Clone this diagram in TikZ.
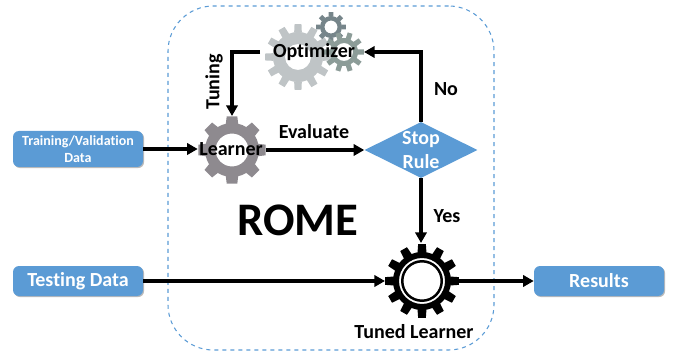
\documentclass[tikz,border=0pt]{standalone}
\usepackage{fontspec}
\setmainfont[Ligatures=NoCommon]{Carlito}
\usetikzlibrary{arrows.meta,shapes.geometric,shadows}
\definecolor{rblue}{HTML}{5B9BD5}
\definecolor{optgray}{HTML}{BFC4C6}
\definecolor{smallone}{HTML}{76858A}
\definecolor{smalltwo}{HTML}{8C9C98}
\definecolor{learngray}{HTML}{8E8A8F}
\tikzset{
  x=0.75pt,y=-0.75pt,
  blue box/.style={rectangle,rounded corners=4.5pt,fill=rblue,text=white,font=\bfseries,align=center,inner sep=0pt,minimum width=97.5pt,drop shadow={shadow xshift=0.8pt,shadow yshift=-0.8pt,fill=black!45,opacity=0.6}},
  conn/.style={line width=2.4pt,-{Triangle[length=8pt,width=8.5pt]}},
  lab/.style={font=\bfseries\fontsize{15}{17}\selectfont,text=black,inner sep=0pt},
}
% cx cy rbody router rhole teeth color startangle
\newcommand{\gearshape}[8]{%
  \fill[#7,even odd rule] (#1,#2) circle[radius=#3*0.75pt] (#1,#2) circle[radius=#5*0.75pt];
  \pgfmathsetmacro{\stp}{360/#6}
  \foreach \k in {1,...,#6}{
    \pgfmathsetmacro{\ang}{#8+\k*\stp}
    \pgfmathsetmacro{\wa}{0.30*\stp}
    \pgfmathsetmacro{\wb}{0.20*\stp}
    \fill[#7] (\ang-\wa:#3*0.75pt-0.3pt) -- (\ang-\wb:#4*0.75pt) -- (\ang+\wb:#4*0.75pt) -- (\ang+\wa:#3*0.75pt-0.3pt) -- cycle;
  }%
}
\begin{document}
\begin{tikzpicture}
\useasboundingbox (0,0) rectangle (675,356);
% frame
\node[draw=rblue,dashed,line width=0.8pt,rounded corners=34pt,minimum width=244.5pt,minimum height=258pt,inner sep=0pt] (frame) at (331,178) {};
% gears
\begin{scope}[shift={(298,57)}]\gearshape{0}{0}{25}{33}{13}{12}{optgray}{0}\end{scope}
\begin{scope}[shift={(331,27)}]\gearshape{0}{0}{11}{15}{6.5}{8}{smallone}{0}\end{scope}
\begin{scope}[shift={(344,52)}]\gearshape{0}{0}{14}{20}{9}{10}{smalltwo}{0}\end{scope}
\begin{scope}[shift={(232,150)}]\gearshape{0}{0}{27}{34}{16.5}{8}{learngray}{0}\end{scope}
\begin{scope}[shift={(422,281)}]
  \gearshape{0}{0}{29}{37}{23}{12}{black}{0}
  \fill[black,even odd rule] (0,0) circle[radius=21*0.75pt] (0,0) circle[radius=18.5*0.75pt];
\end{scope}
% named nodes
\node[circle,inner sep=0pt,minimum size=24pt] (optgear) at (298,57) {};
\node[circle,inner sep=0pt,minimum size=51pt] (learngear) at (232,150) {};
\node[circle,inner sep=0pt,minimum size=55.5pt] (tunedgear) at (422,281) {};
\coordinate (optleft) at (260,52);
\coordinate (optright) at (364,52);
\node[diamond,fill=rblue,inner sep=0pt,minimum width=84.75pt,minimum height=42pt,aspect=2] (stop) at (421,150) {};
\node[blue box,minimum height=27pt,font=\bfseries\fontsize{10.5}{13}\selectfont] (train) at (78,149) {Training/Validation\\Data};
\node[blue box,minimum height=22.5pt,font=\bfseries\fontsize{15}{17}\selectfont] (test) at (78,281) {Testing Data};
\node[blue box,minimum height=22.5pt,font=\bfseries\fontsize{15}{17}\selectfont] (res) at (599,281) {Results};
% connectors
\draw[conn] (train.east) -- (learngear.west |- train.east) coordinate (l1);
\draw[conn] (learngear.east) -- (stop.west);
\draw[conn] (stop.north) -- (stop.north |- optright) -- (optright);
\draw[conn] (optleft) -- (optleft -| learngear) -- (learngear.north |- 0,116);
\draw[conn] (stop.south) -- (stop.south |- 0,243);
\draw[conn] (test.east) -- (385,281);
\draw[conn] (459,281) -- (res.west);
% labels
\node[lab] (optl) at (314,52) {Optimizer};
\node[lab] (learnl) at (231,149) {Learner};
\node[font=\bfseries\fontsize{15}{17.5}\selectfont,text=white,align=center,inner sep=0pt] (stopl) at (421,150) {Stop\\Rule};
\node[lab,rotate=90] (tun) at (214,82) {Tuning};
\node[lab] (no) at (446,89) {No};
\node[lab] (ev) at (314,132) {Evaluate};
\node[lab] (ye) at (447,216) {Yes};
\node[font=\bfseries\fontsize{35}{40}\selectfont,inner sep=0pt] (rome) at (298,220) {ROME};
\node[lab] (tl) at (414,332) {Tuned Learner};
\end{tikzpicture}
\end{document}
